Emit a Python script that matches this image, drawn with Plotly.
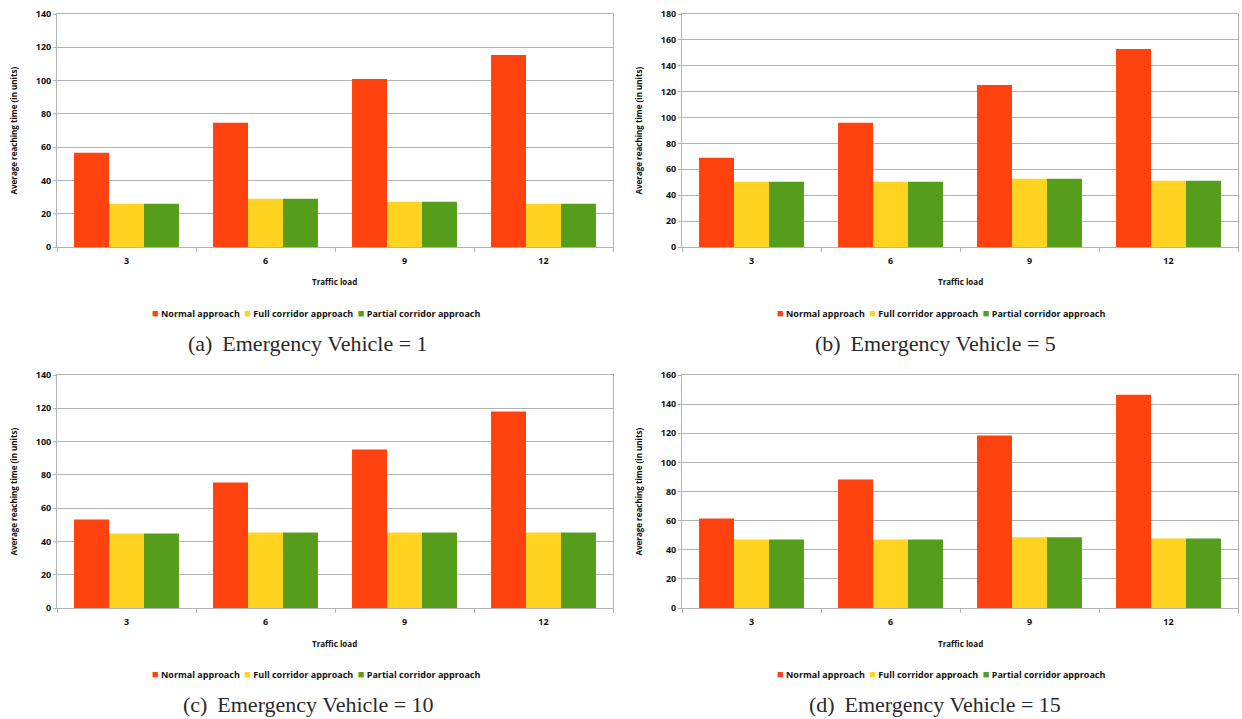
import plotly.graph_objects as go

# Categories and series
loads = ["3", "6", "9", "12"]
series_names = ["Normal approach", "Full corridor approach", "Partial corridor approach"]
series_colors = ["#ff420e", "#ffd320", "#579d1c"]

# Average reaching time per traffic load, one set per emergency-vehicle count
ev1_normal = [56.6, 74.6, 101.0, 115.4]
ev1_full = [26.0, 29.0, 27.2, 26.0]
ev1_partial = [26.0, 29.0, 27.2, 26.0]

ev5_normal = [68.9, 95.9, 125.2, 153.0]
ev5_full = [50.4, 50.4, 52.7, 51.2]
ev5_partial = [50.4, 50.4, 52.7, 51.2]

ev10_normal = [53.2, 75.4, 95.2, 118.0]
ev10_full = [44.8, 45.4, 45.4, 45.4]
ev10_partial = [44.8, 45.4, 45.4, 45.4]

ev15_normal = [61.5, 88.2, 118.4, 146.5]
ev15_full = [47.1, 47.1, 48.5, 47.8]
ev15_partial = [47.1, 47.1, 48.5, 47.8]

y_maxima = [140, 180, 140, 160]
captions = [
    "(a)\u2009 Emergency Vehicle = 1",
    "(b)\u2009 Emergency Vehicle = 5",
    "(c)\u2009 Emergency Vehicle = 10",
    "(d)\u2009 Emergency Vehicle = 15",
]
x_title = "Traffic load"
y_title = "Average reaching time (in units)"

panel_series = [
    [ev1_normal, ev1_full, ev1_partial],
    [ev5_normal, ev5_full, ev5_partial],
    [ev10_normal, ev10_full, ev10_partial],
    [ev15_normal, ev15_full, ev15_partial],
]

W, H = 1242, 719
# plot-area pixel boxes (left, right, top, bottom) for the 2x2 grid
boxes = [
    (57, 613, 14, 247),
    (682, 1238, 14, 247),
    (57, 613, 375, 608),
    (682, 1238, 375, 608),
]

GRID = "#b3b3b3"
TEXT = "#111111"
SANS = "Open Sans"
SERIF = "Liberation Serif"


def px_x(v):
    return v / W


def px_y(v):
    return 1 - v / H


fig = go.Figure()
annotations = []

for i, (series, ymax, caption, box) in enumerate(zip(panel_series, y_maxima, captions, boxes)):
    n = "" if i == 0 else str(i + 1)
    xa, ya = "x" + n, "y" + n
    left, right, top, bottom = box

    for name, color, vals in zip(series_names, series_colors, series):
        fig.add_trace(go.Bar(
            x=loads, y=vals, name=name, marker=dict(color=color, line=dict(width=0)),
            xaxis=xa, yaxis=ya, showlegend=False,
        ))

    fig.update_layout(**{
        "xaxis" + n: dict(
            domain=[px_x(left), px_x(right)], anchor=ya, type="category",
            automargin=False,
            showline=True, linecolor=GRID, linewidth=1, mirror=True,
            ticks="outside", tickson="boundaries", ticklen=4, tickcolor=GRID,
            showgrid=False, ticklabelstandoff=5,
            tickfont=dict(family=SANS, size=9, color=TEXT, weight=700),
        ),
        "yaxis" + n: dict(
            domain=[px_y(bottom), px_y(top)], anchor=xa, automargin=False,
            range=[0, ymax], dtick=20, showgrid=True, gridcolor=GRID, gridwidth=1,
            showline=True, linecolor=GRID, linewidth=1, mirror=True,
            ticks="outside", ticklen=3, tickcolor=GRID, zeroline=False,
            tickfont=dict(family=SANS, size=9, color=TEXT, weight=700),
        ),
    })

    cx_plot = (left + right) / 2
    cx_panel = left - 57 + 316 if left < 600 else left - 682 + 941
    cx_caption = 308 if left < 600 else 935
    dy = top - 14

    # y-axis title
    annotations.append(dict(
        text=y_title, textangle=-90, x=px_x(left - 44), y=px_y((top + bottom) / 2),
        xref="paper", yref="paper", xanchor="center", yanchor="middle", showarrow=False,
        font=dict(family=SANS, size=8, color=TEXT, weight=700),
    ))
    # x-axis title
    annotations.append(dict(
        text=x_title, x=px_x(cx_plot), y=px_y(282 + dy),
        xref="paper", yref="paper", xanchor="center", yanchor="middle", showarrow=False,
        font=dict(family=SANS, size=8, color=TEXT, weight=700),
    ))
    # legend row
    legend_text = "\u2002".join(
        f'<span style="color:{c};font-size:11px">\u25a0</span> {s}'
        for s, c in zip(series_names, series_colors)
    )
    annotations.append(dict(
        text=legend_text, x=px_x(cx_panel), y=px_y(312 + dy),
        xref="paper", yref="paper", xanchor="center", yanchor="middle", showarrow=False,
        font=dict(family=SANS, size=9, color=TEXT, weight=700),
    ))
    # sub-figure caption
    annotations.append(dict(
        text=caption, x=px_x(cx_caption), y=px_y(343 + dy),
        xref="paper", yref="paper", xanchor="center", yanchor="middle", showarrow=False,
        font=dict(family=SERIF, size=22, color="#2a2a2a"),
    ))

fig.update_layout(
    width=W, height=H, margin=dict(l=0, r=0, t=0, b=0),
    paper_bgcolor="white", plot_bgcolor="white",
    barmode="group", bargap=0.245, bargroupgap=0,
    annotations=annotations, showlegend=False,
)

fig.write_html("out.html")
